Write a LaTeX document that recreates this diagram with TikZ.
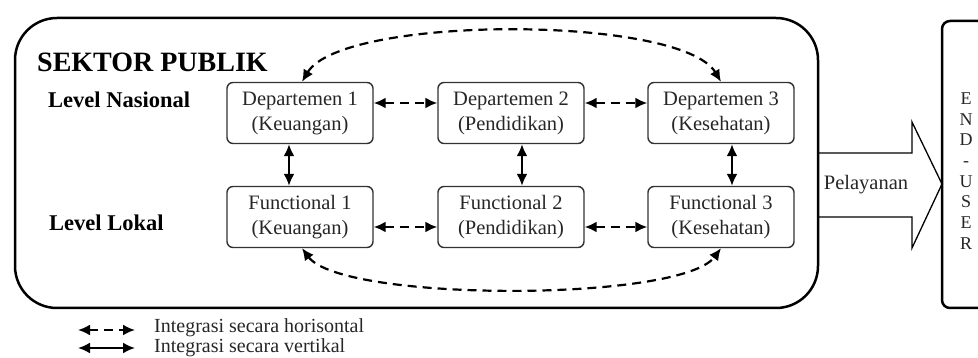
\documentclass[tikz,border=0pt]{standalone}
\usepackage{fontspec}
\setmainfont{Liberation Serif}
\usetikzlibrary{arrows.meta}
\begin{document}
\begin{tikzpicture}[x=1pt,y=-1pt,
  unitbox/.style={draw=black!80,line width=1.4pt,rounded corners=6pt,minimum width=146pt,minimum height=61pt,
    inner sep=0pt,align=center,text=black!85,font=\fontsize{20.5}{25}\selectfont},
  lvllabel/.style={anchor=west,inner sep=0pt,font=\fontsize{22.5}{27}\selectfont\bfseries},
  legendtext/.style={anchor=west,inner sep=0pt,text=black!85,font=\fontsize{20}{24}\selectfont},
  hlink/.style={line width=2.2pt,dash pattern=on 9pt off 6pt,{Latex[length=12pt,width=11pt]}-{Latex[length=12pt,width=11pt]}},
  vlink/.style={line width=2.2pt,{Latex[length=12pt,width=11pt]}-{Latex[length=12pt,width=11pt]}}]
\useasboundingbox (0,0) rectangle (978,358);
\draw [line width=2.5pt,rounded corners=42pt] (15,18) rectangle (818,308);
\draw [line width=2.5pt,rounded corners=8pt] (995,21) -- (942,21) -- (942,308) -- (995,308);
\draw [line width=1.3pt] (818,153) -- (912,153) -- (912,122) -- (942,184) -- (912,248) -- (912,217) -- (818,217);
\node (pelayanan) at (866,185) [inner sep=0pt,text=black!85,font=\fontsize{20.5}{24}\selectfont] {Pelayanan};
\node (enduser) at (966,171) [inner sep=0pt,align=center,text=black!85,font=\fontsize{18}{20.7}\selectfont] {E\\N\\D\\-\\U\\S\\E\\R};

\node (sektor) at (37,62) [anchor=west,inner sep=0pt,font=\fontsize{28}{32}\selectfont\bfseries] {SEKTOR PUBLIK};
\node (nasional) at (48,100) [lvllabel] {Level Nasional};
\node (lokal) at (49,223) [lvllabel] {Level Lokal};

\node (dep1) at (300,113) [unitbox] {Departemen 1\\(Keuangan)};
\node (dep2) at (511,113) [unitbox] {Departemen 2\\(Pendidikan)};
\node (dep3) at (721,113) [unitbox] {Departemen 3\\(Kesehatan)};
\node (fun1) at (300,217) [unitbox] {Functional 1\\(Keuangan)};
\node (fun2) at (511,217) [unitbox] {Functional 2\\(Pendidikan)};
\node (fun3) at (721,217) [unitbox] {Functional 3\\(Kesehatan)};

\draw [hlink] ([yshift=10pt]dep1.east) -- ([yshift=10pt]dep2.west);
\draw [hlink] ([yshift=10pt]dep2.east) -- ([yshift=10pt]dep3.west);
\draw [hlink] ([yshift=-10pt]fun1.east) -- ([yshift=-10pt]fun2.west);
\draw [hlink] ([yshift=-10pt]fun2.east) -- ([yshift=-10pt]fun3.west);

\draw [vlink] ([xshift=-11pt]dep1.south) -- ([xshift=-11pt]fun1.north);
\draw [vlink] ([xshift=11pt]dep2.south) -- ([xshift=11pt]fun2.north);
\draw [vlink] ([xshift=11pt]dep3.south) -- ([xshift=11pt]fun3.north);

\draw [hlink] ([xshift=2pt]dep1.north) .. controls +(40,-67) and +(-40,-67) .. (dep3.north);
\draw [hlink] ([xshift=2pt]fun1.south) .. controls +(40,54) and +(-40,54) .. (fun3.south);

\coordinate (hleft) at (78,330);
\coordinate (hright) at (135,330);
\coordinate (vleft) at (78,348);
\coordinate (vright) at (135,348);
\draw [hlink] (hleft) -- (hright);
\draw [vlink] (vleft) -- (vright);
\node (hnote) at (154,328) [legendtext] {Integrasi secara horisontal};
\node (vnote) at (154,348) [legendtext] {Integrasi secara vertikal};
\end{tikzpicture}
\end{document}
